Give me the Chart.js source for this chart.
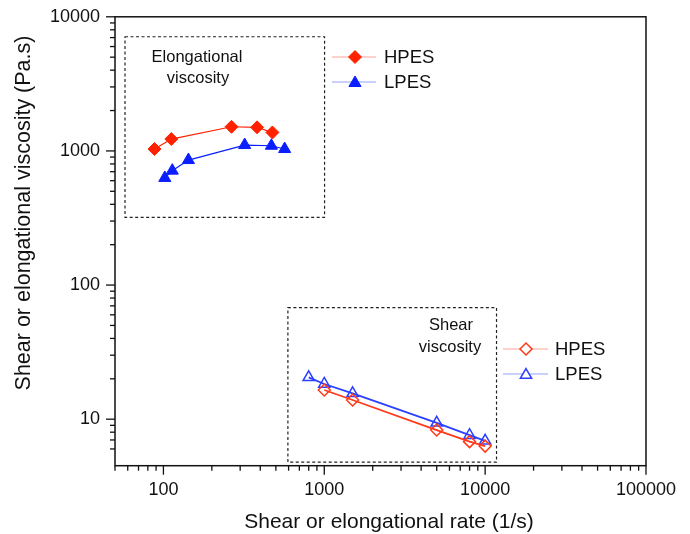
<!DOCTYPE html>
<html><head><meta charset="utf-8">
<script src="https://cdn.jsdelivr.net/npm/chart.js@4.4.1/dist/chart.umd.min.js"></script>
<style>html,body{margin:0;padding:0;background:#fff}#wrap{width:690px;height:534px;position:relative}</style>
</head><body><div id="wrap"><canvas id="c" width="690" height="534"></canvas></div>
<script>
// ---- data ----
const elongRateHPES = [88, 112, 265, 382, 476];
const elongViscHPES = [1033, 1226, 1514, 1500, 1373];
const elongRateLPES = [102, 113.5, 143, 320, 469, 567];
const elongViscLPES = [629, 713, 855, 1106, 1093, 1033];
const shearRateHPES = [1000, 1500, 5000, 8000, 10000];
const shearViscHPES = [16.5, 13.9, 8.3, 6.8, 6.3];
const shearRateLPES = [800, 1000, 1500, 5000, 8000, 10000];
const shearViscLPES = [20.5, 18.3, 15.6, 9.4, 7.6, 6.9];
const xTickLabels = [100, 1000, 10000, 100000];
const yTickLabels = [10, 100, 1000, 10000];
const seriesNames = ['HPES', 'LPES'];
const insetTitles = [['Elongational', 'viscosity'], ['Shear', 'viscosity']];
const xTitle = 'Shear or elongational rate (1/s)';
const yTitle = 'Shear or elongational viscosity (Pa.s)';

const FONT = '"Liberation Sans", Arial, Helvetica, sans-serif';
const RED = '#ff2200', BLUE = '#0a1eff';
const RED2 = '#ff3a1a', BLUE2 = '#2b40ff';

const pts = (xs, ys) => xs.map((x, i) => ({x: x, y: ys[i]}));
const isPow10 = v => Math.abs(Math.log10(v) - Math.round(Math.log10(v))) < 1e-9;

function drawMarker(ctx, style, x, y, r, fill, stroke, lw) {
  ctx.save();
  ctx.beginPath();
  if (style === 'rectRot') {
    ctx.moveTo(x, y - r); ctx.lineTo(x + r, y); ctx.lineTo(x, y + r); ctx.lineTo(x - r, y);
  } else {
    ctx.moveTo(x, y - r);
    ctx.lineTo(x + Math.sin(2*Math.PI/3) * r, y - Math.cos(2*Math.PI/3) * r);
    ctx.lineTo(x + Math.sin(4*Math.PI/3) * r, y - Math.cos(4*Math.PI/3) * r);
  }
  ctx.closePath();
  if (fill) { ctx.fillStyle = fill; ctx.fill(); }
  ctx.lineWidth = lw; ctx.strokeStyle = stroke; ctx.stroke();
  ctx.restore();
}

const annot = {
  id: 'annot',
  beforeDatasetsDraw(chart) {
    const ctx = chart.ctx, xs = chart.scales.x, ys = chart.scales.y;
    const boxes = [[57.7, 1004, 7100, 320], [594, 11770, 67.9, 4.78]];
    ctx.save();
    ctx.strokeStyle = '#222'; ctx.lineWidth = 1.2; ctx.setLineDash([3, 2.5]);
    boxes.forEach(b => {
      const l = xs.getPixelForValue(b[0]), r = xs.getPixelForValue(b[1]);
      const t = ys.getPixelForValue(b[2]), bt = ys.getPixelForValue(b[3]);
      ctx.strokeRect(l, t, r - l, bt - t);
    });
    ctx.restore();
  },
  afterDraw(chart) {
    const ctx = chart.ctx, a = chart.chartArea, xs = chart.scales.x, ys = chart.scales.y;
    ctx.save();
    // frame
    ctx.strokeStyle = '#111'; ctx.lineWidth = 1.5;
    ctx.strokeRect(a.left, a.top, a.right - a.left, a.bottom - a.top);
    // ticks
    ctx.lineWidth = 1.3;
    const tickOk = v => { const m = v / Math.pow(10, Math.floor(Math.log10(v) + 1e-9)); return Math.abs(m - Math.round(m)) < 1e-6; };
    xs.ticks.forEach(t => {
      if (!tickOk(t.value)) return;
      const px = xs.getPixelForValue(t.value), len = isPow10(t.value) ? 9 : 5;
      ctx.beginPath(); ctx.moveTo(px, a.bottom); ctx.lineTo(px, a.bottom + len); ctx.stroke();
    });
    ys.ticks.forEach(t => {
      if (!tickOk(t.value)) return;
      const py = ys.getPixelForValue(t.value), len = isPow10(t.value) ? 9 : 5;
      ctx.beginPath(); ctx.moveTo(a.left, py); ctx.lineTo(a.left - len, py); ctx.stroke();
    });
    // inset titles
    ctx.fillStyle = '#111'; ctx.textAlign = 'center'; ctx.textBaseline = 'middle';
    ctx.font = '16.5px ' + FONT;
    ctx.fillText(insetTitles[0][0], 197, 57);
    ctx.fillText(insetTitles[0][1], 198, 78);
    ctx.fillText(insetTitles[1][0], 451, 325);
    ctx.fillText(insetTitles[1][1], 450, 347);
    // legends
    const ds = chart.data.datasets;
    const legends = [
      {x0: 332, x1: 376, mx: 355, tx: 384, ys: [57, 82], sets: [0, 1]},
      {x0: 503, x1: 548, mx: 526, tx: 555, ys: [349, 374], sets: [2, 3]}
    ];
    ctx.font = '18.5px ' + FONT; ctx.textAlign = 'left';
    legends.forEach(L => {
      L.sets.forEach((si, k) => {
        const d = ds[si], y = L.ys[k];
        ctx.strokeStyle = k === 0 ? 'rgba(255,90,70,0.55)' : 'rgba(60,80,255,0.55)';
        ctx.lineWidth = 1.2;
        ctx.beginPath(); ctx.moveTo(L.x0, y); ctx.lineTo(L.x1, y); ctx.stroke();
        const filled = d.backgroundColor !== 'rgba(255,255,255,0)';
        drawMarker(ctx, d.pointStyle, L.mx, y + (d.pointStyle === 'triangle' ? 1 : 0), d.pointRadius,
          filled ? d.backgroundColor : '#fff', d.borderColor, d.pointBorderWidth);
        ctx.fillStyle = '#111';
        ctx.fillText(seriesNames[k], L.tx, y + 1);
      });
    });
    // axis titles
    ctx.textAlign = 'center';
    ctx.font = '21px ' + FONT;
    ctx.fillText(xTitle, 389, 522);
    ctx.translate(24, 213); ctx.rotate(-Math.PI / 2);
    ctx.font = '21.5px ' + FONT;
    ctx.fillText(yTitle, 0, 0);
    ctx.restore();
  }
};

const tickCfg = (labels, pad) => ({
  autoSkip: false, maxRotation: 0, minRotation: 0, padding: pad,
  color: '#111', font: {family: FONT, size: 18},
  callback: v => (isPow10(v) && labels.includes(Math.round(v))) ? String(Math.round(v)) : ''
});
const gridCfg = {display: true, drawOnChartArea: false, drawTicks: true, tickLength: 9, color: 'rgba(0,0,0,0)'};

new Chart(document.getElementById('c'), {
  type: 'scatter',
  data: {
    datasets: [
      {label: 'HPES elong', data: pts(elongRateHPES, elongViscHPES), showLine: true,
       borderColor: RED, backgroundColor: RED, borderWidth: 1.2,
       pointStyle: 'rectRot', pointRadius: 6.5, pointBorderWidth: 1, pointBackgroundColor: RED, pointBorderColor: RED},
      {label: 'LPES elong', data: pts(elongRateLPES, elongViscLPES), showLine: true,
       borderColor: BLUE, backgroundColor: BLUE, borderWidth: 1.2,
       pointStyle: 'triangle', pointRadius: 7, pointBorderWidth: 1, pointBackgroundColor: BLUE, pointBorderColor: BLUE},
      {label: 'HPES shear', data: pts(shearRateHPES, shearViscHPES), showLine: true,
       borderColor: RED2, backgroundColor: 'rgba(255,255,255,0)', borderWidth: 1.8,
       pointStyle: 'rectRot', pointRadius: 6, pointBorderWidth: 1.5, pointBorderColor: RED2, pointBackgroundColor: 'rgba(255,255,255,0)'},
      {label: 'LPES shear', data: pts(shearRateLPES, shearViscLPES), showLine: true,
       borderColor: BLUE2, backgroundColor: 'rgba(255,255,255,0)', borderWidth: 1.8,
       pointStyle: 'triangle', pointRadius: 6.5, pointBorderWidth: 1.5, pointBorderColor: BLUE2, pointBackgroundColor: 'rgba(255,255,255,0)'}
    ]
  },
  options: {
    responsive: false, animation: false, devicePixelRatio: 1,
    layout: {padding: {left: 0, right: 44, top: 15.7, bottom: 0}},
    plugins: {legend: {display: false}, tooltip: {enabled: false}, title: {display: false}},
    scales: {
      x: {type: 'logarithmic', min: 50, max: 100000, position: 'bottom',
          grid: gridCfg, border: {display: false}, ticks: tickCfg(xTickLabels, 5),
          afterFit: s => { s.height = 68.3; }},
      y: {type: 'logarithmic', min: 4.5, max: 10000, position: 'left',
          grid: gridCfg, border: {display: false}, ticks: tickCfg(yTickLabels, 6),
          afterFit: s => { s.width = 115; }}
    }
  },
  plugins: [annot]
});
</script>
</body></html>
